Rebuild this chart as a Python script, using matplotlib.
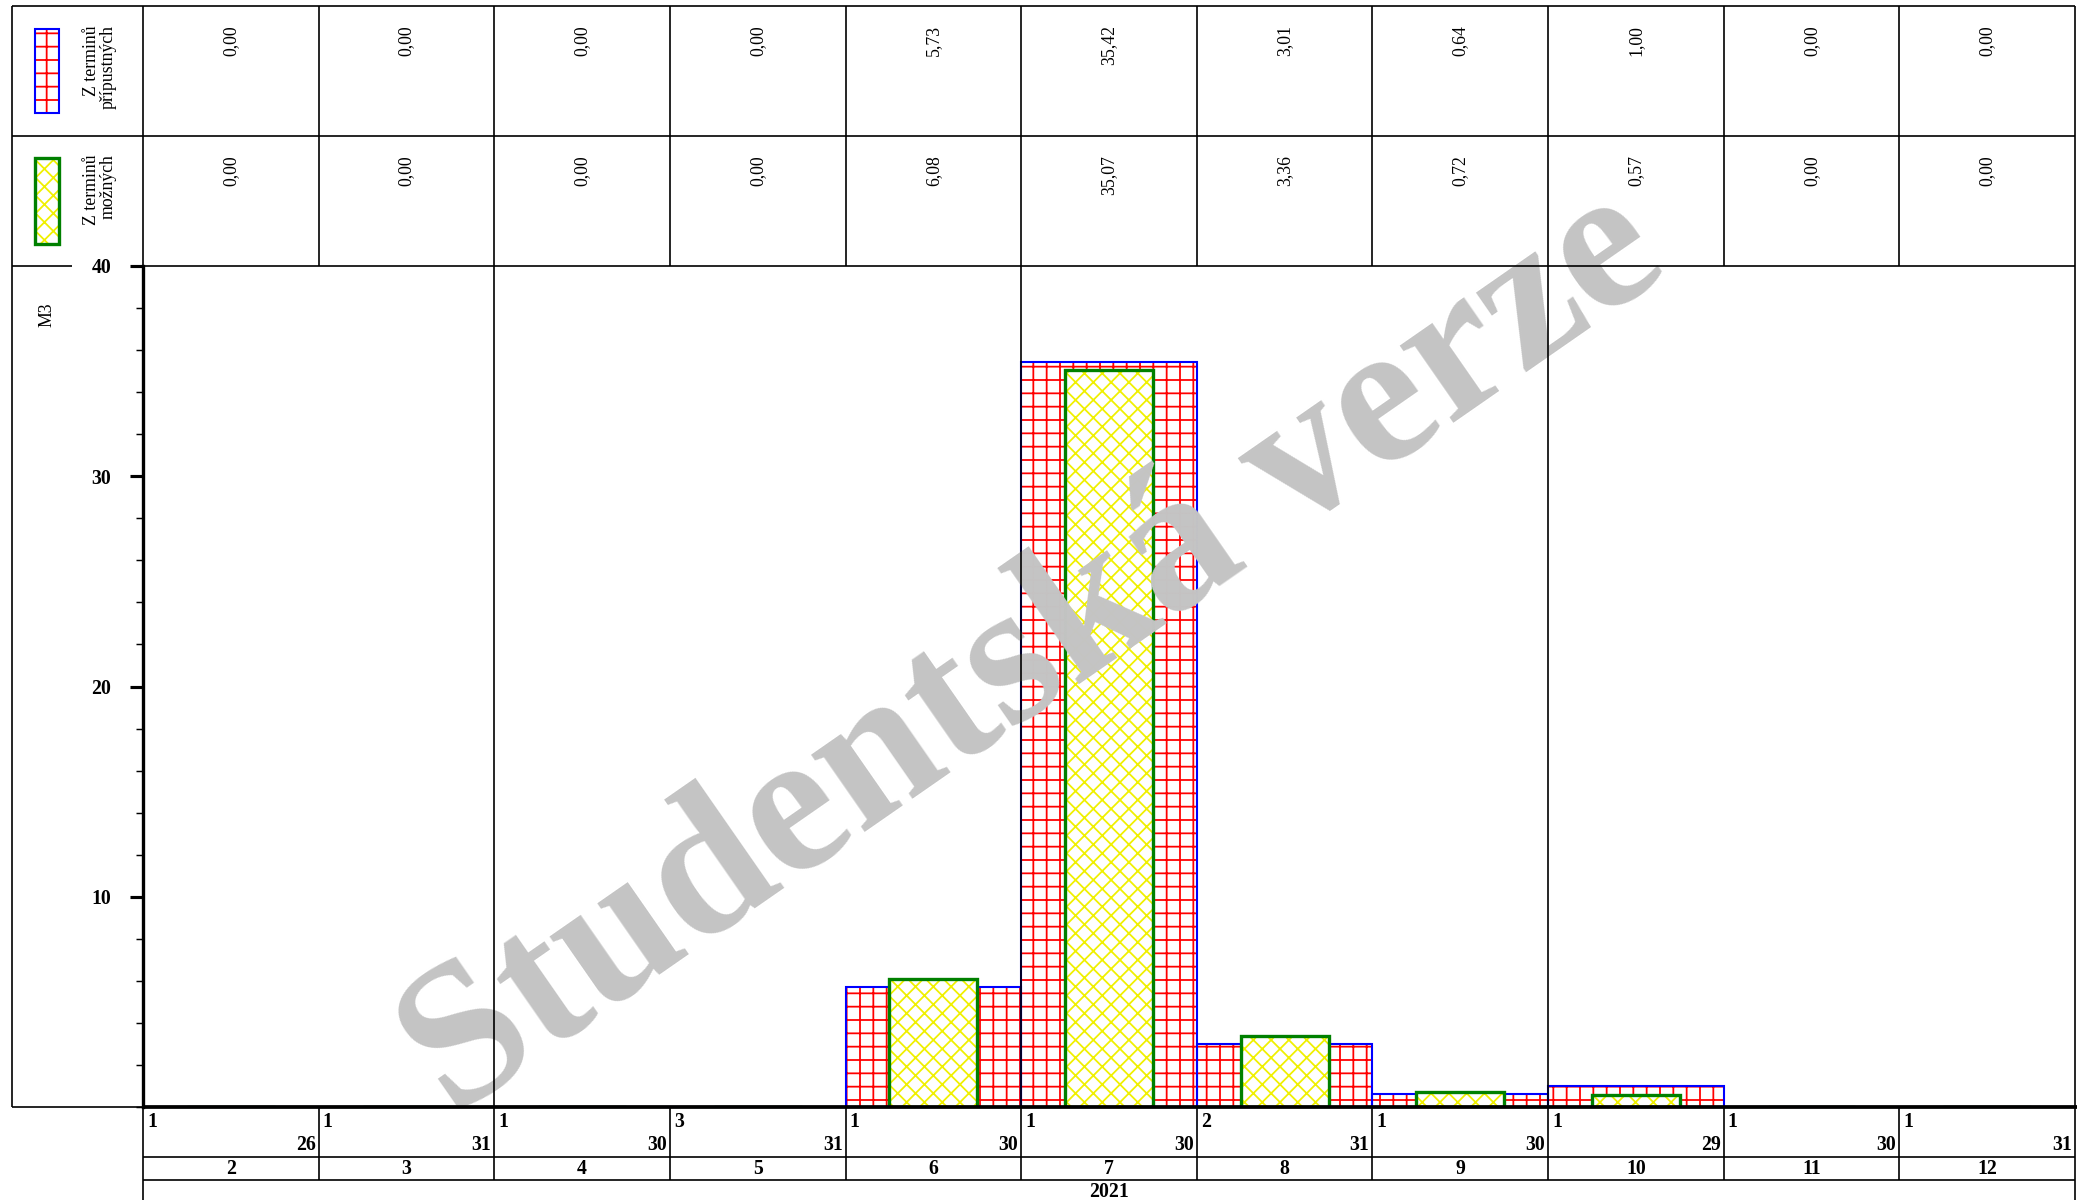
import numpy as np
import matplotlib

# no display here
matplotlib.use('Agg')

import matplotlib.pyplot as plt
from matplotlib.patches import Rectangle
from matplotlib.ticker import MultipleLocator

plt.rcParams['font.family'] = ['Liberation Serif', 'DejaVu Serif']
plt.rcParams['hatch.linewidth'] = 0.8

# monthly values (M3)
months = ['2', '3', '4', '5', '6', '7', '8', '9', '10', '11', '12']
first_day = [1, 1, 1, 3, 1, 1, 2, 1, 1, 1, 1]
last_day = [26, 31, 30, 31, 30, 30, 31, 30, 29, 30, 31]
pripustne = [0.00, 0.00, 0.00, 0.00, 5.73, 35.42, 3.01, 0.64, 1.00, 0.00, 0.00]
mozne = [0.00, 0.00, 0.00, 0.00, 6.08, 35.07, 3.36, 0.72, 0.57, 0.00, 0.00]
year = '2021'
y_ticks = [10, 20, 30, 40]

# page layout in pixels
W, H = 2085, 1200
DPI = 160  # hatch tile follows dpi, 160 gives the grid spacing of the original
k = 150 / DPI  # sizes below were tuned for 150 dpi
L, X0, X1 = 12, 143, 2075
TOP, ROW1, ROW2, BASE, DROW, MROW = 6, 136, 266, 1107, 1157, 1180
n = len(months)
cw = (X1 - X0) / n
bounds = [X0 + i * cw for i in range(n + 1)]
centers = [X0 + (i + 0.5) * cw for i in range(n)]
# quarter separators inside the plot
quarters = [bounds[i] for i, m in enumerate(months) if int(m) % 3 == 1]

YELLOW = '#f0f000'
fs = 8.5 * k
fsb = 9.5 * k

fig = plt.figure(figsize=(W / DPI, H / DPI), dpi=DPI)

# main chart (drawn below the frame and the watermark)
ax = fig.add_axes([X0 / W, 1 - BASE / H, (X1 - X0) / W, (BASE - ROW2) / H])
ax.set_zorder(1)
ax.set_facecolor('none')
x = np.arange(n) + 0.5
ax.bar(x, pripustne, width=1.0, color='white', edgecolor='red', hatch='++', lw=0, zorder=2)
ax.bar(x, pripustne, width=1.0, fill=False, edgecolor='blue', lw=1.0 * k, zorder=2)
ax.bar(x, mozne, width=0.5, color='white', edgecolor=YELLOW, hatch='xxx', lw=0, zorder=3)
ax.bar(x, mozne, width=0.5, fill=False, edgecolor='green', lw=1.6 * k, zorder=3)

ax.set_xlim(0, n)
ax.set_ylim(0, 40)
ax.set_xticks([])
ax.set_yticks(y_ticks)
ax.set_yticklabels([str(t) for t in y_ticks], fontweight='bold')
ax.yaxis.set_minor_locator(MultipleLocator(2))
ax.tick_params(axis='y', which='major', length=6.2 * k, width=1.5 * k, pad=9 * k, labelsize=fsb)
ax.tick_params(axis='y', which='minor', length=3.4 * k, width=0.7 * k)
for s in ['top', 'right', 'bottom']:
    ax.spines[s].set_visible(False)
ax.spines['left'].set_linewidth(1.6 * k)

# overlay axes in pixel coords: frame, table, watermark
bg = fig.add_axes([0, 0, 1, 1])
bg.set_zorder(2)
bg.set_xlim(0, W)
bg.set_ylim(H, 0)
bg.axis('off')

bg.text(0.496, 0.455, 'Studentská verze', transform=bg.transAxes, rotation=34.8,
        ha='center', va='center', fontsize=97.5 * k, fontweight='bold',
        color='#c4c4c4', zorder=1)

lw = 0.8 * k
kw = dict(color='k', lw=lw, zorder=2)
bg.hlines([TOP, ROW1], L, X1, **kw)
bg.hlines(ROW2, L, 72, **kw)
bg.hlines(ROW2, X0, X1, **kw)
bg.vlines(L, TOP, BASE, **kw)
bg.hlines(BASE, L, X0, **kw)
bg.vlines(bounds, TOP, ROW2, **kw)
bg.vlines(bounds, BASE, MROW, **kw)
bg.hlines([DROW, MROW], X0, X1, **kw)
bg.vlines([X0, X1], MROW, H, **kw)
bg.vlines(quarters + [X1], ROW2, BASE, **kw)
bg.hlines(BASE, X0, X1 + 2, color='k', lw=1.8 * k, zorder=2)

def fmt(v):
    return f"{v:.2f}".replace('.', ',')

for i in range(n):
    bg.text(centers[i], TOP + 19, fmt(pripustne[i]), rotation=90, ha='center', va='top', fontsize=fs, zorder=3)
    bg.text(centers[i], ROW1 + 19, fmt(mozne[i]), rotation=90, ha='center', va='top', fontsize=fs, zorder=3)
    bg.text(bounds[i] + 4, BASE + 5, str(first_day[i]), ha='left', va='top', fontsize=fsb,
            fontweight='bold', zorder=3)
    bg.text(bounds[i + 1] - 3, DROW - 2, str(last_day[i]), ha='right', va='bottom', fontsize=fsb,
            fontweight='bold', zorder=3)
    bg.text(centers[i], (DROW + MROW) / 2 + 1, months[i], ha='center', va='center', fontsize=fsb,
            fontweight='bold', zorder=3)
bg.text((X0 + X1) / 2, (MROW + H) / 2 + 2, year, ha='center', va='center', fontsize=fsb,
        fontweight='bold', zorder=3)

# legend cells
bg.add_patch(Rectangle((35, 29), 24, 84, facecolor='white', edgecolor='red', hatch='++', lw=0, zorder=3))
bg.add_patch(Rectangle((35, 29), 24, 84, fill=False, edgecolor='blue', lw=1.0 * k, zorder=3))
bg.add_patch(Rectangle((35, 158), 24, 86, facecolor='white', edgecolor=YELLOW, hatch='xxx', lw=0, zorder=3))
bg.add_patch(Rectangle((35, 158), 24, 86, fill=False, edgecolor='green', lw=1.6 * k, zorder=3))
bg.text(100, TOP + 19, 'Z terminů\npřípustných', rotation=90, ha='center', va='top',
        multialignment='right', fontsize=fs, linespacing=1.0, zorder=3)
bg.text(100, ROW1 + 18, 'Z terminů\nmožných', rotation=90, ha='center', va='top',
        multialignment='right', fontsize=fs, linespacing=1.0, zorder=3)
bg.text(47, ROW2 + 36, 'M3', rotation=90, ha='center', va='top', fontsize=fs, zorder=3)

fig.savefig('out.png', dpi=DPI)
